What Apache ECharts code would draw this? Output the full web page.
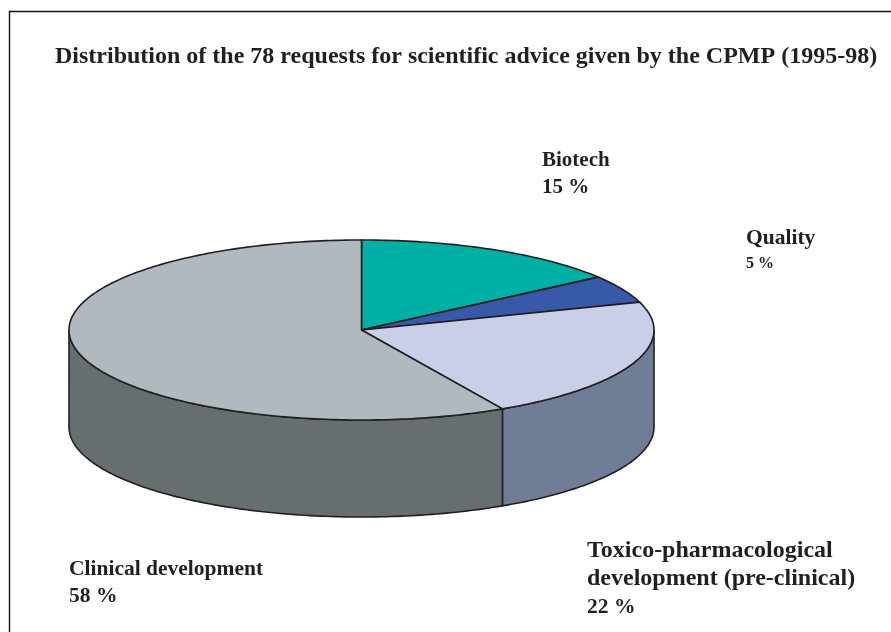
<!DOCTYPE html>
<html>
<head>
<meta charset="utf-8">
<title>CPMP scientific advice</title>
<script src="https://cdn.jsdelivr.net/npm/echarts@6/dist/echarts.min.js"></script>
<style>
  html, body { margin: 0; padding: 0; background: #fff; }
  #chart { width: 891px; height: 632px; }
</style>
</head>
<body>
<div id="chart"></div>
<script>
const chartTitle = 'Distribution of the 78 requests for scientific advice given by the CPMP (1995-98)'
const categories = ['Biotech', 'Quality', 'Toxico-pharmacological\ndevelopment (pre-clinical)', 'Clinical development']
const shares = [15, 5, 22, 58]
const topColors = ['#00b0a5', '#3858a8', '#c9cfe8', '#b0b8c0']
const sideColors = ['#007f78', '#27407c', '#6f7d96', '#666e70']

// pie geometry on the page, the disc is an ellipse with a wall under it
const cx = 361.5, cy = 330, rx = 292.5, ry = 90, depth = 97
const strokeColor = '#231f20'

// where each label sits, same order as categories
const labelSpots = [
  { x: 542, y: 150, size: 21, pct: 21, height: 27 },
  { x: 746, y: 227, size: 21.5, pct: 16, height: 26 },
  { x: 587, y: 539, size: 24, pct: 21.5, height: 28 },
  { x: 69, y: 558, size: 21.5, pct: 21.5, height: 27 }
]

const total = shares.reduce((a, b) => a + b, 0)

function rimPoint(turn, drop) {
  const t = turn * Math.PI * 2
  return [cx + rx * Math.sin(t), cy - ry * Math.cos(t) + (drop || 0)]
}

function arcPoints(from, to, drop) {
  const pts = []
  const steps = Math.max(2, Math.ceil((to - from) * 360))
  for (let i = 0; i <= steps; i++) {
    pts.push(rimPoint(from + (to - from) * i / steps, drop))
  }
  return pts
}

function renderSlice(params, api) {
  const i = params.dataIndex
  const from = shares.slice(0, i).reduce((a, b) => a + b, 0) / total
  const to = from + api.value(0) / total
  const children = []

  // wall only shows on the front half of the rim
  const wallFrom = Math.max(from, 0.25)
  const wallTo = Math.min(to, 0.75)
  if (wallTo > wallFrom) {
    const top = arcPoints(wallFrom, wallTo, 0)
    const bottom = arcPoints(wallFrom, wallTo, depth).reverse()
    children.push({
      type: 'polygon',
      shape: { points: top.concat(bottom) },
      style: { fill: sideColors[i], stroke: strokeColor, lineWidth: 1.6 }
    })
  }

  children.push({
    type: 'polygon',
    shape: { points: [[cx, cy]].concat(arcPoints(from, to, 0)) },
    style: { fill: topColors[i], stroke: strokeColor, lineWidth: 1.6 }
  })

  return { type: 'group', children }
}

const chart = echarts.init(document.getElementById('chart'), null, { renderer: 'canvas' })

const labels = categories.map((name, i) => {
  const spot = labelSpots[i]
  const font = { fontFamily: '"Liberation Serif"', fontWeight: 'bold', fill: strokeColor, lineHeight: spot.height }
  const nameText = name.split('\n').map(line => '{n|' + line + '}').join('\n')
  return {
    type: 'text',
    left: spot.x,
    top: spot.y,
    style: {
      text: nameText + '\n{p|' + shares[i] + ' %}',
      rich: {
        n: Object.assign({ fontSize: spot.size }, font),
        p: Object.assign({ fontSize: spot.pct }, font)
      }
    }
  }
})

chart.setOption({
  animation: false,
  title: {
    text: chartTitle,
    left: 50,
    top: 40,
    textStyle: {
      fontFamily: '"Liberation Serif"',
      fontWeight: 'bold',
      fontSize: 24,
      color: strokeColor
    }
  },
  graphic: [
    {
      type: 'polyline',
      shape: { points: [[9.5, 640], [9.5, 11.5], [900, 11.5]] },
      style: { fill: null, stroke: '#111', lineWidth: 1.4 }
    }
  ].concat(labels),
  series: [
    {
      type: 'custom',
      coordinateSystem: 'none',
      renderItem: renderSlice,
      silent: true,
      data: shares.map(v => [v])
    }
  ]
})
</script>
</body>
</html>
